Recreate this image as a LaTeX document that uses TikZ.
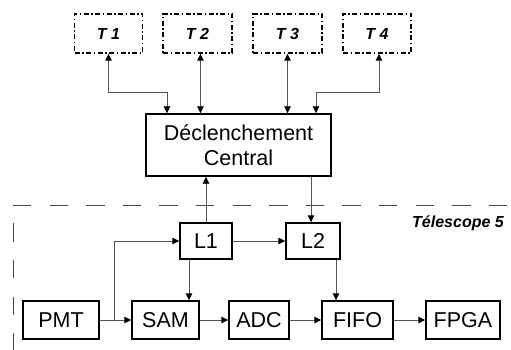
\documentclass[tikz,border=0pt]{standalone}
\usepackage{fontspec}
\setmainfont{Liberation Sans}
\usepackage{tikz}
\usetikzlibrary{arrows.meta,calc}
\usepackage{xcolor}
\definecolor{wiregray}{RGB}{85,85,85}
\definecolor{framegray}{RGB}{70,70,70}

\begin{document}
\begin{tikzpicture}[x=1pt,y=-1pt, >={Triangle[length=7pt,width=6.5pt,color=black]}]
  \tikzstyle{block}=[rectangle, draw=black, line width=1.4pt, inner sep=0pt, minimum height=38pt, font=\fontsize{21.5}{25}\selectfont, align=center]
  \tikzstyle{tel}=[rectangle, draw=black, line width=1.4pt, dash pattern=on 5pt off 2.5pt on 1.5pt off 2.5pt, minimum width=68pt, minimum height=39pt, font=\fontsize{16}{18}\selectfont\bfseries\itshape]
  \tikzstyle{wire}=[wiregray, line width=0.9pt]
  \tikzstyle{frame}=[framegray, line width=0.9pt, dash pattern=on 18.3pt off 18.3pt]
  \useasboundingbox (0,0) rectangle (511,350);
  \node[tel] (t1) at (108.5,33.5) {T 1};
  \node[tel, minimum width=69pt] (t2) at (197.5,33.5) {T 2};
  \node[tel, minimum width=69pt] (t3) at (287.5,33.5) {T 3};
  \node[tel] (t4) at (377,33.5) {T 4};
  \node[block, minimum width=185pt, minimum height=62pt] (decl) at (238.5,145) {D\'eclenchement\\Central};
  \node[block, minimum width=52pt, minimum height=36pt] (l1) at (206,241) {L1};
  \node[block, minimum width=54pt, minimum height=36pt] (l2) at (313,241) {L2};
  \node[block, minimum width=76pt] (pmt) at (61,320) {PMT};
  \node[block, minimum width=67pt] (sam) at (165.5,320) {SAM};
  \node[block, minimum width=60pt] (adc) at (259,320) {ADC};
  \node[block, minimum width=71pt] (fifo) at (357.5,320) {FIFO};
  \node[block, minimum width=74pt] (fpga) at (463,320) {FPGA};
  \node[anchor=east, inner sep=0pt, font=\fontsize{16}{18}\selectfont\bfseries\itshape] (tel5) at (504,223) {T\'elescope 5};
  \draw[frame] (13,205) -- (511,205);
  \draw[frame, dash phase=18.3pt] (13,205) -- (13,350);
  \draw[wire, <->] (t1.south) |- ($(decl.north)+(-71.5,-21)$) -- ($(decl.north)+(-71.5,0)$);
  \draw[wire, <->] ([xshift=3pt]t2.south) -- ([xshift=3pt]t2.south |- decl.north);
  \draw[wire, <->] (t3.south) -- (t3.south |- decl.north);
  \draw[wire, <->] ([xshift=2pt]t4.south) |- ($(decl.north)+(77.5,-21)$) -- ($(decl.north)+(77.5,0)$);
  \draw[wire, ->] (l1.north) -- (l1.north |- decl.south);
  \draw[wire, ->] ([xshift=-2pt]decl.south -| l2.north) -- ([xshift=-2pt]l2.north);
  \draw[wire, ->] (l1.east) -- (l2.west);
  \draw[wire, ->] ([xshift=-17pt]l1.south) -- ([xshift=-17pt]l1.south |- sam.north);
  \draw[wire, ->] ([xshift=23pt]l2.south) -- ([xshift=23pt]l2.south |- fifo.north);
  \coordinate (split) at ($(pmt.east)+(15,0)$);
  \draw[wire, ->] (pmt.east) -- (sam.west);
  \draw[wire, ->] (split) |- (l1.west);
  \draw[wire, ->] (sam.east) -- (adc.west);
  \draw[wire, ->] (adc.east) -- (fifo.west);
  \draw[wire, ->] (fifo.east) -- (fpga.west);
\end{tikzpicture}
\end{document}
